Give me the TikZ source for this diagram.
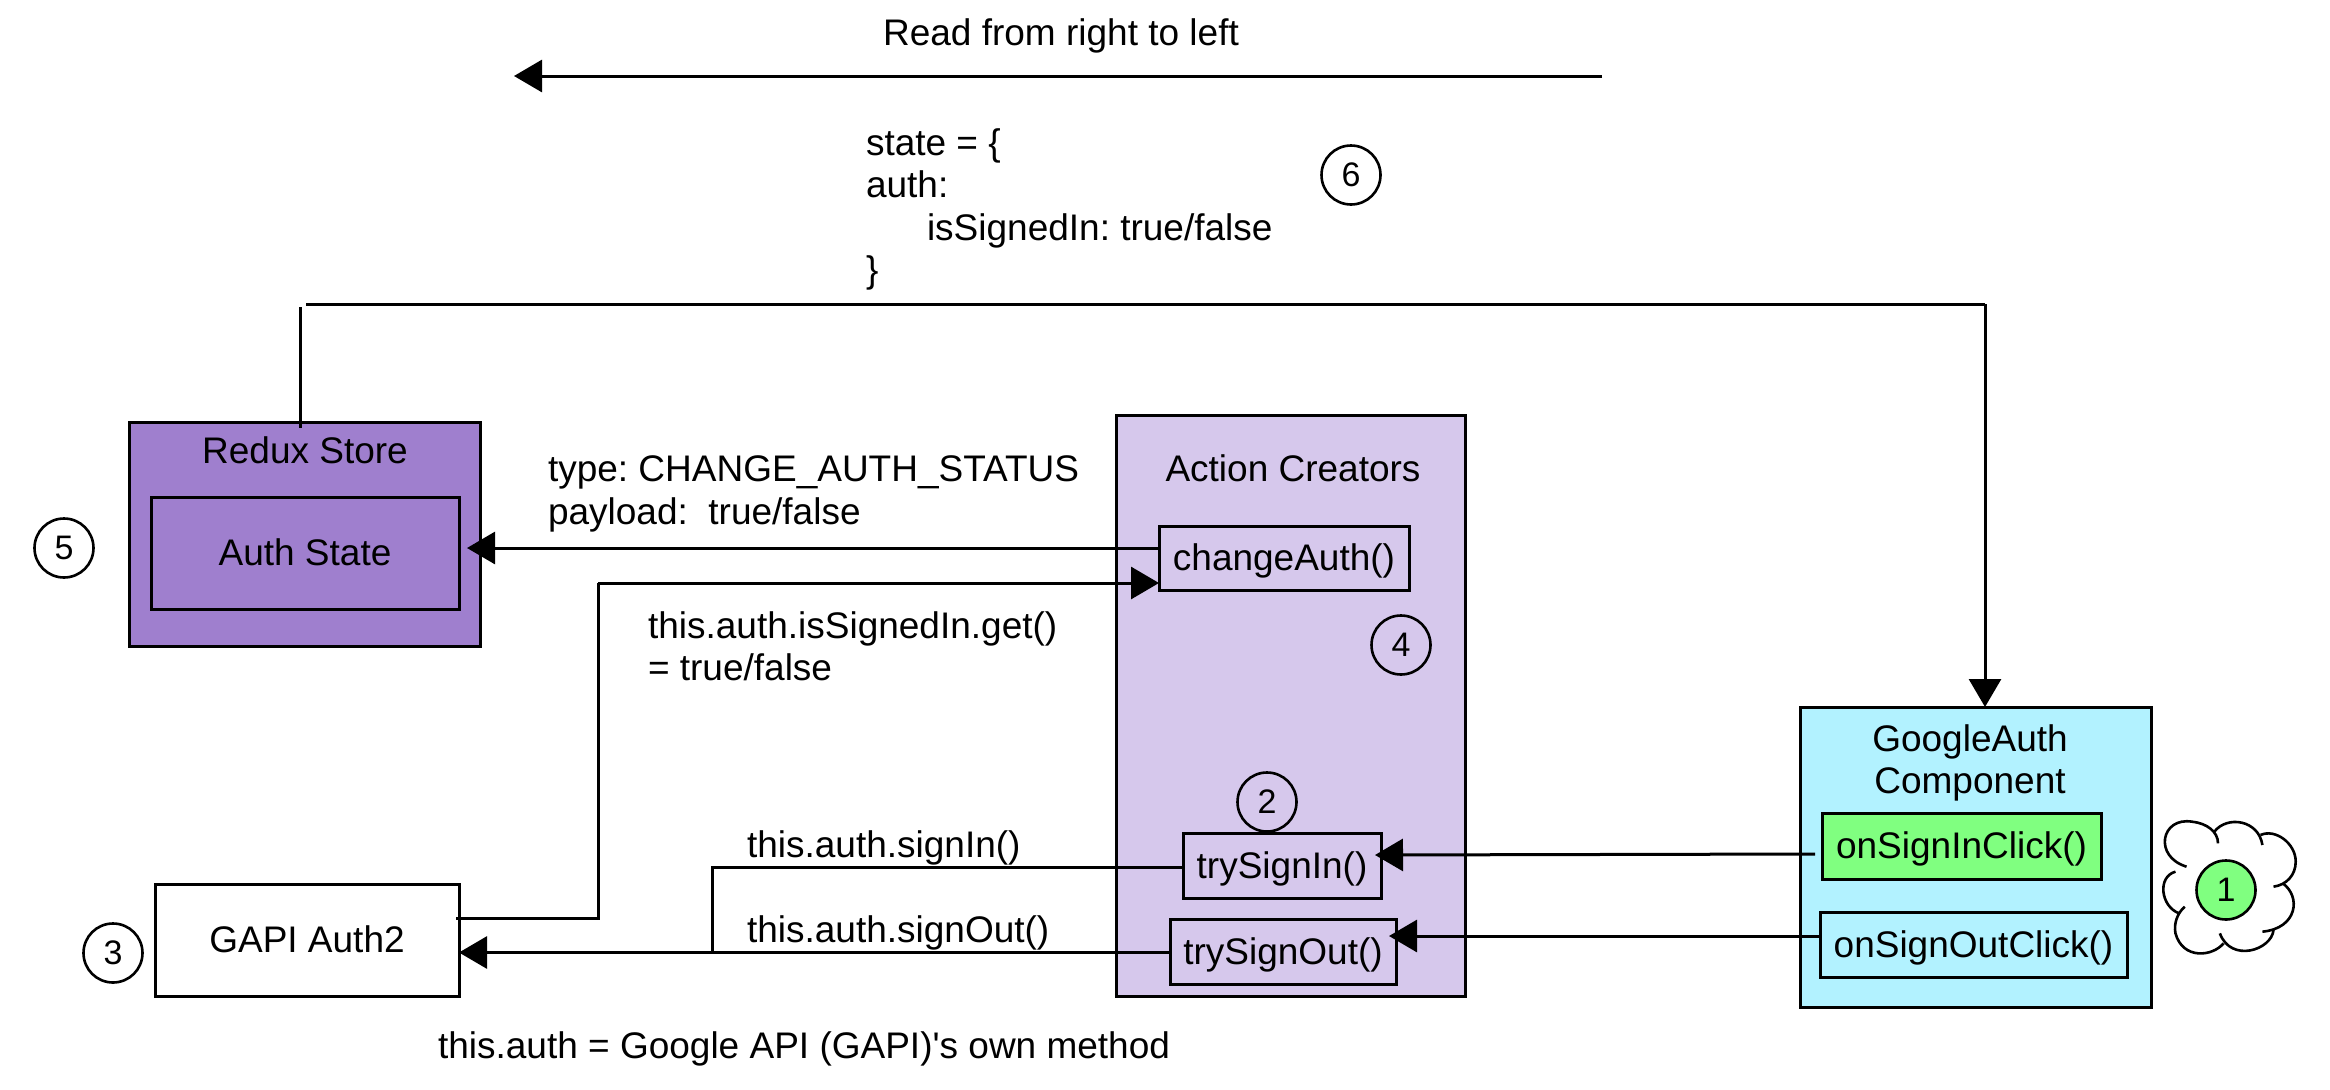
\documentclass[tikz,border=0pt]{standalone}
\usepackage{fontspec}
\setmainfont{Liberation Sans}
\usetikzlibrary{arrows.meta}
\frenchspacing
\definecolor{storepurple}{HTML}{9F7FCE}
\definecolor{actionlilac}{HTML}{D6C8EC}
\definecolor{compcyan}{HTML}{B2F2FF}
\definecolor{clickgreen}{HTML}{80FF80}
\tikzset{
  every node/.style={font=\fontsize{37}{42.5}\selectfont,inner sep=0pt,outer sep=0pt},
  rectbox/.style={draw=black,line width=3pt,inner sep=0pt,align=center,text height=27pt,text depth=2pt},
  plainbox/.style={draw=black,line width=3pt},
  badge/.style={draw=black,line width=2.6pt,circle,minimum size=59pt,font=\fontsize{34}{38}\selectfont},
  label/.style={anchor=north west,align=left},
  wire/.style={line width=3pt,draw=black},
  arrowwire/.style={wire,-{Triangle[length=28pt,width=32pt]}},
}
\begin{document}
\begin{tikzpicture}[x=1pt,y=-1pt]
\useasboundingbox (0,0) rectangle (2330,1090);
% containers
\node[plainbox,fill=storepurple,minimum width=351pt,minimum height=224pt] (store) at (305,534.5) {};
\node[plainbox,fill=actionlilac,minimum width=349pt,minimum height=581pt] (actions) at (1290.5,705.5) {};
\node[plainbox,fill=compcyan,minimum width=351pt,minimum height=300pt] (comp) at (1975.5,857) {};
% titles
\node (storetitle) at (305,450) {Redux Store};
\node (actionstitle) at (1293,468) {Action Creators};
\node[align=center] (comptitle) at (1970,763) {GoogleAuth\\Component};
% inner boxes
\node[rectbox,minimum width=308pt,minimum height=112pt] (authstate) at (305,553) {Auth State};
\node[rectbox,fill=white,minimum width=304pt,minimum height=112pt] (gapi) at (307,940) {GAPI Auth2};
\node[rectbox,minimum width=250pt,minimum height=64pt] (changeauth) at (1284,558) {changeAuth()};
\node[rectbox,minimum width=198pt,minimum height=65pt] (trysignin) at (1282,865.5) {trySignIn()};
\node[rectbox,minimum width=226pt,minimum height=65pt] (trysignout) at (1283,951.5) {trySignOut()};
\node[rectbox,fill=clickgreen,minimum width=279pt,minimum height=66pt] (onsignin) at (1961.5,846) {onSignInClick()};
\node[rectbox,minimum width=307pt,minimum height=65pt] (onsignout) at (1973.5,944.5) {onSignOutClick()};
% badges
\node[badge,fill=clickgreen] (b1) at (2226,890) {1};
\node[badge] (b2) at (1267,802) {2};
\node[badge] (b3) at (113,953) {3};
\node[badge] (b4) at (1401,645) {4};
\node[badge] (b5) at (64,548) {5};
\node[badge] (b6) at (1351,175) {6};
% cloud
\begin{scope}[shift={(1750,680)},xscale=0.36996,yscale=0.33333,line width=2.6pt]
\draw (1180,560) .. controls (1090,530) and (1110,410) .. (1195,425) .. controls (1235,430) and (1265,455) .. (1265,490);
\draw (1255,455) .. controls (1290,405) and (1375,420) .. (1385,495);
\draw (1380,465) .. controls (1420,445) and (1475,490) .. (1475,545) .. controls (1475,585) and (1450,615) .. (1415,620);
\draw (1440,610) .. controls (1490,650) and (1480,745) .. (1385,755);
\draw (1415,750) .. controls (1410,810) and (1300,850) .. (1270,760);
\draw (1280,790) .. controls (1250,830) and (1170,840) .. (1150,760) .. controls (1145,730) and (1155,700) .. (1175,680);
\draw (1160,700) .. controls (1110,680) and (1100,590) .. (1150,575);
\end{scope}
% free ends
\coordinate (readstart) at (1602,76);
\coordinate (readend) at (514,76);
\coordinate (busstart) at (306,304);
\coordinate (buscorner) at (1985,304);
\coordinate (storeup) at (300,307);
\coordinate (mergex) at (712,954);
\coordinate (gapix) at (598,583);
% labels
\node (readlabel) at (1061,36) {Read from right to left};
\node[label] (statelabel) at (866,128.5) {state = \{\\auth:\\\hspace{61pt}isSignedIn: true/false\\\}};
\node[label] (typelabel) at (548,456) {type: CHANGE\_AUTH\_STATUS\\payload:\ \ true/false};
\node[label] (getlabel) at (648,611.5) {this.auth.isSignedIn.get()\\= true/false};
\node[label] (inlabel) at (747,830.5) {this.auth.signIn()};
\node[label] (outlabel) at (747,915.5) {this.auth.signOut()};
\node[label] (gapilabel) at (438,1031.5) {this.auth = Google API (GAPI)\textquotesingle s own method};
% connectors
\draw[arrowwire] (readstart) -- (readend);
\draw[wire] (storeup) -- ([yshift=-5pt]store.north -| storeup);
\draw[wire] (busstart) -- (buscorner);
\draw[arrowwire] (buscorner) -- (buscorner |- comp.north);
\draw[arrowwire] ([xshift=-7pt,yshift=-8pt]onsignin.west) -- ([xshift=-6pt,yshift=10.5pt]trysignin.east);
\draw[arrowwire] ([yshift=8.5pt]onsignout.west) -- ([xshift=-7pt,yshift=15.5pt]trysignout.east);
\draw[wire] ([yshift=-2pt]trysignin.west) -- ([yshift=-2pt]trysignin.west -| mergex) -- (mergex);
\draw[arrowwire] ([yshift=-1pt]trysignout.west) -- ([yshift=-1pt]trysignout.west -| gapi.east);
\draw[wire] ([xshift=-3pt,yshift=22pt]gapi.east) -- ([yshift=22pt]gapi.east -| gapix) -- (gapix);
\draw[arrowwire] (gapix) -- (gapix -| changeauth.west);
\draw[arrowwire] ([yshift=10pt]changeauth.west) -- ([xshift=8pt,yshift=5pt]authstate.east);
\end{tikzpicture}
\end{document}
